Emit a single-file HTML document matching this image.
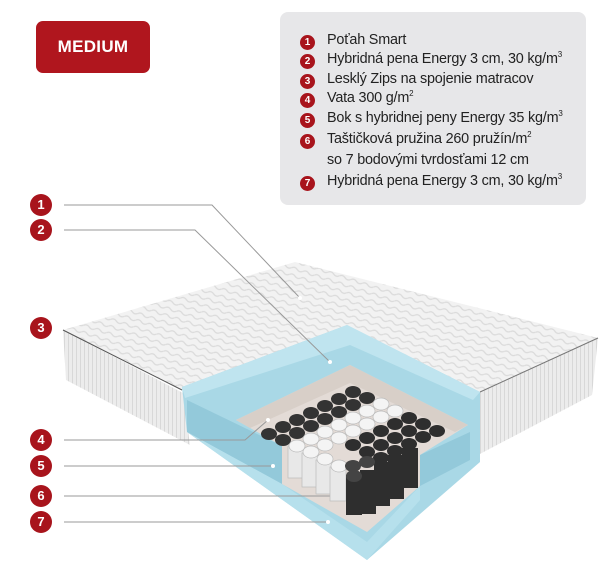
<!DOCTYPE html>
<html><head><meta charset="utf-8"><style>
html,body{margin:0;padding:0;background:#fff}
body{width:604px;height:566px;position:relative;overflow:hidden;font-family:"Liberation Sans",sans-serif}
.badge{position:absolute;left:36px;top:21px;width:114px;height:52px;background:#b0161e;border-radius:7px;color:#fff;font-weight:bold;font-size:17px;text-align:center;line-height:52px;letter-spacing:0.3px}
.leg{position:absolute;left:280px;top:12px;width:306px;height:193px;background:#e7e7e9;border-radius:8px}
.it{position:absolute;left:327px;font-size:14.4px;color:#222;white-space:nowrap;letter-spacing:-0.2px}
.n{position:absolute;width:15px;height:15px;border-radius:50%;background:#a8141c;color:#fff;font-weight:bold;font-size:10px;text-align:center;line-height:15px}
.bn{position:absolute;width:22px;height:22px;border-radius:50%;background:#a8141c;color:#fff;font-weight:bold;font-size:13px;text-align:center;line-height:22px}
sup{font-size:8px;vertical-align:6px;line-height:0}
</style></head><body>
<div class="badge">MEDIUM</div>
<div class="leg"></div>
<div class="n" style="left:300px;top:35px">1</div><div class="it" style="top:32px">Poťah Smart</div>
<div class="n" style="left:300px;top:54px">2</div><div class="it" style="top:51px">Hybridná pena Energy 3 cm, 30 kg/m<sup>3</sup></div>
<div class="n" style="left:300px;top:74px">3</div><div class="it" style="top:71px">Lesklý Zips na spojenie matracov</div>
<div class="n" style="left:300px;top:93px">4</div><div class="it" style="top:90px">Vata 300 g/m<sup>2</sup></div>
<div class="n" style="left:300px;top:113px">5</div><div class="it" style="top:110px">Bok s hybridnej peny Energy 35 kg/m<sup>3</sup></div>
<div class="n" style="left:300px;top:134px">6</div><div class="it" style="top:131px">Taštičková pružina 260 pružín/m<sup>2</sup></div>
<div class="it" style="top:152px">so 7 bodovými tvrdosťami 12 cm</div>
<div class="n" style="left:300px;top:176px">7</div><div class="it" style="top:173px">Hybridná pena Energy 3 cm, 30 kg/m<sup>3</sup></div>

<svg width="604" height="566" style="position:absolute;left:0;top:0">
<defs>
<pattern id="q" width="12" height="7" patternUnits="userSpaceOnUse" patternTransform="rotate(18)">
<rect width="12" height="7" fill="#f2f2f2"/><path d="M0 3.5 Q3 1 6 3.5 T12 3.5" stroke="#dadada" fill="none" stroke-width="1.2"/></pattern>
<pattern id="s" width="4" height="10" patternUnits="userSpaceOnUse"><rect width="4" height="10" fill="#ececec"/><rect width="1" height="10" fill="#d8d8d8"/></pattern>
</defs>
<polygon points="63,330 183,393 190,445 66,380" fill="url(#s)"/>
<polygon points="480,392 598,338 592,395 478,455" fill="url(#s)"/>
<polygon points="63,330 295,262 598,338 480,392 347,325 182,390" fill="url(#q)"/>
<polyline points="63,330 182,390" stroke="#555" stroke-width="1" fill="none"/>
<polyline points="480,392 598,338" stroke="#777" stroke-width="1" fill="none"/>
<polygon points="182,387 347,325 480,392 480,462 367,560 187,432" fill="#a9d8e6"/>
<polygon points="182,387 347,325 480,392 473,400 350,345 185,398" fill="#bfe4ef"/>
<polygon points="187,400 282,446 282,484 187,432" fill="#93c9da"/>
<polygon points="420,455 470,432 470,460 420,486" fill="#93c9da"/>
<polygon points="282,484 367,542 420,486 420,500 367,560 187,432" fill="#b6e0ec"/>
<polygon points="236,420 350,365 468,425 420,455 420,486 367,532 282,484 282,446" fill="#e3dbd6"/>
<polygon points="236,420 350,365 468,425 455,432 350,383 250,428" fill="#d8cfc8"/>
<g stroke="#999" stroke-width="1" fill="none">
<polyline points="64,205 212,205 300,298"/>
<polyline points="64,230 195,230 330,362"/>
<polyline points="64,440 245,440 268,420"/>
<line x1="64" y1="466" x2="273" y2="466"/>
<line x1="64" y1="496" x2="343" y2="496"/>
<line x1="64" y1="522" x2="328" y2="522"/>
</g>
<g fill="#fff"><circle cx="300" cy="298" r="2"/><circle cx="330" cy="362" r="2"/><circle cx="268" cy="420" r="2"/><circle cx="273" cy="466" r="2"/><circle cx="343" cy="496" r="2"/><circle cx="328" cy="522" r="2"/></g>
</svg>
<svg width="604" height="566" style="position:absolute;left:0;top:0">
<g fill="#333">
<ellipse cx="353" cy="392" rx="8" ry="6"/><ellipse cx="367" cy="398" rx="8" ry="6"/><ellipse cx="339" cy="399" rx="8" ry="6"/>
<ellipse cx="325" cy="406" rx="8" ry="6"/><ellipse cx="353" cy="405" rx="8" ry="6"/><ellipse cx="311" cy="413" rx="8" ry="6"/>
<ellipse cx="339" cy="412" rx="8" ry="6"/><ellipse cx="297" cy="420" rx="8" ry="6"/><ellipse cx="325" cy="419" rx="8" ry="6"/>
<ellipse cx="283" cy="427" rx="8" ry="6"/><ellipse cx="311" cy="426" rx="8" ry="6"/><ellipse cx="269" cy="434" rx="8" ry="6"/>
<ellipse cx="297" cy="433" rx="8" ry="6"/><ellipse cx="283" cy="440" rx="8" ry="6"/>
</g>
<g fill="#f4f4f4" stroke="#bbb" stroke-width="0.7">
<rect x="288" y="446" width="16" height="32" fill="#e8e8e8"/>
<rect x="302" y="453" width="16" height="34" fill="#e8e8e8"/>
<rect x="316" y="460" width="16" height="34" fill="#e8e8e8"/>
<rect x="330" y="467" width="16" height="34" fill="#e8e8e8"/>
<ellipse cx="381" cy="404" rx="8" ry="6"/><ellipse cx="395" cy="411" rx="8" ry="6"/>
<ellipse cx="367" cy="411" rx="8" ry="6"/><ellipse cx="381" cy="417" rx="8" ry="6"/>
<ellipse cx="353" cy="418" rx="8" ry="6"/><ellipse cx="367" cy="424" rx="8" ry="6"/>
<ellipse cx="339" cy="425" rx="8" ry="6"/><ellipse cx="353" cy="431" rx="8" ry="6"/>
<ellipse cx="325" cy="432" rx="8" ry="6"/><ellipse cx="339" cy="438" rx="8" ry="6"/>
<ellipse cx="311" cy="439" rx="8" ry="6"/><ellipse cx="325" cy="445" rx="8" ry="6"/>
<ellipse cx="297" cy="446" rx="8" ry="6"/><ellipse cx="311" cy="452" rx="8" ry="6"/>
<ellipse cx="325" cy="459" rx="8" ry="6"/><ellipse cx="339" cy="466" rx="8" ry="6"/>
</g>
<g fill="#2e2e2e">
<rect x="346" y="475" width="16" height="40"/><rect x="360" y="470" width="16" height="44"/>
<rect x="374" y="462" width="16" height="44"/><rect x="388" y="455" width="16" height="44"/>
<rect x="402" y="448" width="16" height="40"/>
<ellipse cx="409" cy="418" rx="8" ry="6"/><ellipse cx="423" cy="424" rx="8" ry="6"/><ellipse cx="437" cy="431" rx="8" ry="6"/>
<ellipse cx="395" cy="424" rx="8" ry="6"/><ellipse cx="409" cy="431" rx="8" ry="6"/><ellipse cx="423" cy="437" rx="8" ry="6"/>
<ellipse cx="381" cy="431" rx="8" ry="6"/><ellipse cx="395" cy="438" rx="8" ry="6"/><ellipse cx="409" cy="444" rx="8" ry="6"/>
<ellipse cx="367" cy="438" rx="8" ry="6"/><ellipse cx="381" cy="445" rx="8" ry="6"/><ellipse cx="395" cy="451" rx="8" ry="6"/>
<ellipse cx="353" cy="445" rx="8" ry="6"/><ellipse cx="367" cy="452" rx="8" ry="6"/><ellipse cx="381" cy="458" rx="8" ry="6"/>
<ellipse cx="353" cy="466" rx="8" ry="6" fill="#444"/><ellipse cx="367" cy="462" rx="8" ry="6" fill="#444"/><ellipse cx="354" cy="476" rx="8" ry="6" fill="#444"/>
</g>
</svg>
<div class="bn" style="left:30px;top:194px">1</div>
<div class="bn" style="left:30px;top:219px">2</div>
<div class="bn" style="left:30px;top:317px">3</div>
<div class="bn" style="left:30px;top:429px">4</div>
<div class="bn" style="left:30px;top:455px">5</div>
<div class="bn" style="left:30px;top:485px">6</div>
<div class="bn" style="left:30px;top:511px">7</div>
</body></html>
